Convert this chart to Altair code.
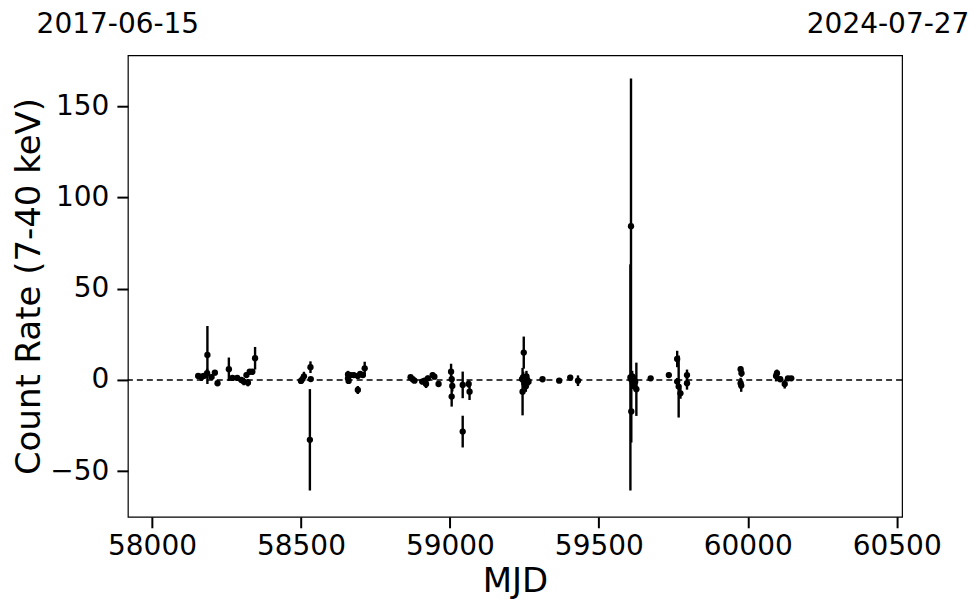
import altair as alt
import pandas as pd

mjd = [58155, 58166, 58174, 58185, 58186, 58200, 58211, 58220, 58258, 58270, 58286, 58300,
       58308, 58317, 58322, 58328, 58337, 58346,
       58500, 58505, 58510, 58532, 58533, 58530,
       58658, 58658, 58660, 58666, 58677, 58691, 58691, 58699, 58708, 58714,
       58868, 58875, 58881, 58907, 58915, 58920, 58926, 58942, 58948, 58962,
       59004, 59006, 59008, 59006, 59043, 59043, 59063, 59066,
       59242, 59244, 59246, 59248, 59250, 59252, 59255, 59257, 59260, 59264,
       59311, 59367, 59404, 59430,
       59606, 59608, 59609, 59610, 59612, 59614, 59616, 59619, 59622, 59626, 59674,
       59735, 59763, 59763, 59768, 59774, 59796, 59796,
       59976, 59979, 59976, 59978, 60095, 60098, 60109, 60124, 60135, 60146]
rate = [2.2, 1.5, 2.2, 3.7, 13.7, 1.6, 4.0, -1.8, 5.9, 1.1, 1.1, 0.0,
        -0.9, 2.7, -1.5, 4.5, 4.5, 11.9,
        -0.5, 0.5, 2.0, 7.0, 0.5, -32.8,
        0.9, 3.0, -0.5, 2.7, 2.7, 2.2, -5.5, 3.3, 2.7, 6.4,
        1.5, 0.4, -0.4, -0.9, -0.4, -2.2, 0.9, 2.7, 1.8, -2.2,
        4.5, 0.4, -3.3, -9.1, -2.7, -28.3, -2.2, -6.4,
        0.5, -6.4, 1.5, 15.0, -2.0, 0.4, -3.5, 2.0, 0.0, -1.0,
        0.4, -0.4, 1.3, -0.4,
        1.4, 84.3, -17.3, 0.0, 2.0, -2.0, 1.0, -3.0, -1.0, -5.1, 0.9,
        2.7, 11.5, -0.9, -3.6, -7.3, 2.7, -1.8,
        5.9, 3.7, -1.8, -3.0, 2.2, 3.7, 0.4, -2.2, 0.9, 0.9]
err = [1.5, 2.0, 1.5, 2.5, 15.9, 1.5, 1.5, 1.5, 6.4, 1.5, 1.5, 1.5,
       2.0, 1.5, 2.0, 1.5, 1.5, 6.2,
       1.5, 2.0, 2.5, 3.2, 1.0, 27.8,
       1.5, 2.0, 1.5, 1.5, 1.5, 1.5, 2.2, 1.5, 1.5, 3.6,
       1.0, 1.0, 1.0, 1.5, 1.5, 2.2, 1.5, 1.5, 1.5, 1.5,
       4.4, 2.0, 3.0, 5.5, 7.3, 8.7, 2.0, 4.6,
       2.0, 13.0, 3.0, 8.8, 2.0, 2.0, 3.0, 3.0, 2.0, 2.0,
       1.0, 1.0, 1.5, 2.9,
       62.0, 81.0, 17.0, 3.0, 3.0, 3.0, 2.0, 2.0, 2.0, 14.6, 1.0,
       1.5, 4.5, 2.0, 17.0, 3.0, 3.0, 3.5,
       1.5, 2.0, 3.0, 3.5, 3.0, 2.0, 1.5, 2.5, 1.0, 1.0]

x_ticks = [58000, 58500, 59000, 59500, 60000, 60500]
y_ticks = [-50, 0, 50, 100, 150]
x_domain = [57919, 60518]
y_domain = [-75, 178]
top_label_mjd = [57919, 60518]
top_labels = ["2017-06-15", "2024-07-27"]

df = pd.DataFrame({"mjd": mjd, "rate": rate, "err": err})
df["lo"] = df["rate"] - df["err"]
df["hi"] = df["rate"] + df["err"]

FONT = "DejaVu Sans"

xs = alt.Scale(domain=x_domain, nice=False, zero=False)
ys = alt.Scale(domain=y_domain, nice=False, zero=False)

xax = alt.Axis(values=x_ticks, format="d", title="MJD", grid=False,
               tickSize=11, tickWidth=2, tickColor="black", domain=False,
               labelFontSize=28, labelColor="black", labelFont=FONT, labelPadding=5,
               titleFontSize=34, titleFont=FONT, titleFontWeight="normal",
               titleColor="black", titlePadding=4)
yax = alt.Axis(values=y_ticks, format="d", title="Count Rate (7-40 keV)", grid=False,
               tickSize=11, tickWidth=2, tickColor="black", domain=False,
               labelFontSize=28, labelColor="black", labelFont=FONT, labelPadding=8,
               titleFontSize=34, titleFont=FONT, titleFontWeight="normal",
               titleColor="black", titlePadding=3)

base = alt.Chart(df)

bars = base.mark_rule(color="black", strokeWidth=2.4).encode(
    x=alt.X("mjd:Q", scale=xs, axis=xax),
    y=alt.Y("lo:Q", scale=ys, axis=yax),
    y2="hi:Q",
)
pts = base.mark_circle(color="black", size=40, opacity=1).encode(
    x=alt.X("mjd:Q", scale=xs),
    y=alt.Y("rate:Q", scale=ys),
)
zero = alt.Chart(pd.DataFrame({"z": [0]})).mark_rule(
    color="black", strokeDash=[6, 4], strokeWidth=1.5
).encode(y=alt.Y("z:Q", scale=ys))

def top_text(i, dx):
    d = pd.DataFrame({"mjd": [top_label_mjd[i]], "label": [top_labels[i]]})
    return alt.Chart(d).mark_text(
        font=FONT, fontSize=28, color="black", align="center",
        baseline="alphabetic", dx=dx
    ).encode(
        x=alt.X("mjd:Q", scale=xs),
        y=alt.value(-22),
        text="label:N",
    )

chart = alt.layer(zero, bars, pts, top_text(0, -10), top_text(1, -14)).properties(
    width=775, height=462,
    padding={"left": 120, "top": 47, "right": 70, "bottom": 88},
    autosize=alt.AutoSizeParams(type="none"),
).configure_view(stroke="black", strokeWidth=1.2)

chart.save("out.html", embed_options={"renderer": "svg", "actions": False})
